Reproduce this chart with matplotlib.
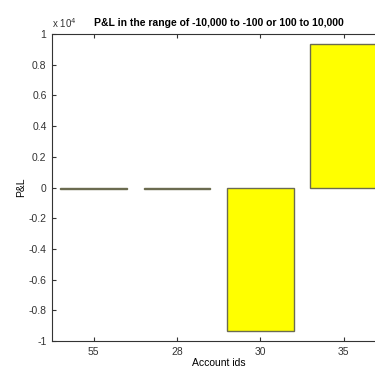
import matplotlib
matplotlib.use('Agg')
import matplotlib.pyplot as plt
import numpy as np

# account ids and their P&L values
account_ids = ['55', '28', '30', '35']
pnl = [-70, -70, -9350, 9350]

plt.rcParams['font.family'] = ['Liberation Sans', 'DejaVu Sans']

fig = plt.figure(figsize=(3.75, 3.71), dpi=100)
# axes runs past the right edge, like the cropped original
ax = fig.add_axes([0.139, 0.081, 0.888, 0.827])

x = np.arange(1, len(account_ids) + 1)
ax.bar(x, np.array(pnl) / 1e4, width=0.8, color='#ffff00',
       edgecolor='#6b6b50', linewidth=1.0)

ax.set_xlim(0.5, 4.5)
ax.set_ylim(-1, 1)
ax.set_xticks(x)
ax.set_xticklabels(account_ids)
yt = np.round(np.arange(-1, 1.01, 0.2), 1) + 0.0
ax.set_yticks(yt)
ax.set_yticklabels(['%g' % (v if abs(v) > 1e-9 else 0) for v in yt])

ax.tick_params(direction='in', top=True, right=True, labelsize=7.5,
               length=3, width=0.8, colors='#333333', pad=4)
for s in ax.spines.values():
    s.set_color('#333333')
    s.set_linewidth(0.8)

ax.set_xlabel('Account ids', fontsize=7.5, labelpad=1)
ax.set_ylabel('P&L', fontsize=7.5, labelpad=2)
ax.set_title('P&L in the range of -10,000 to -100 or 100 to 10,000',
             fontsize=7.5, fontweight='bold', pad=6, x=0.5)
ax.text(0.0, 1.015, r'x 10$^4$', transform=ax.transAxes, fontsize=7,
        ha='left', va='bottom', color='#333333')

fig.savefig('out.png', dpi=100, facecolor='white')
